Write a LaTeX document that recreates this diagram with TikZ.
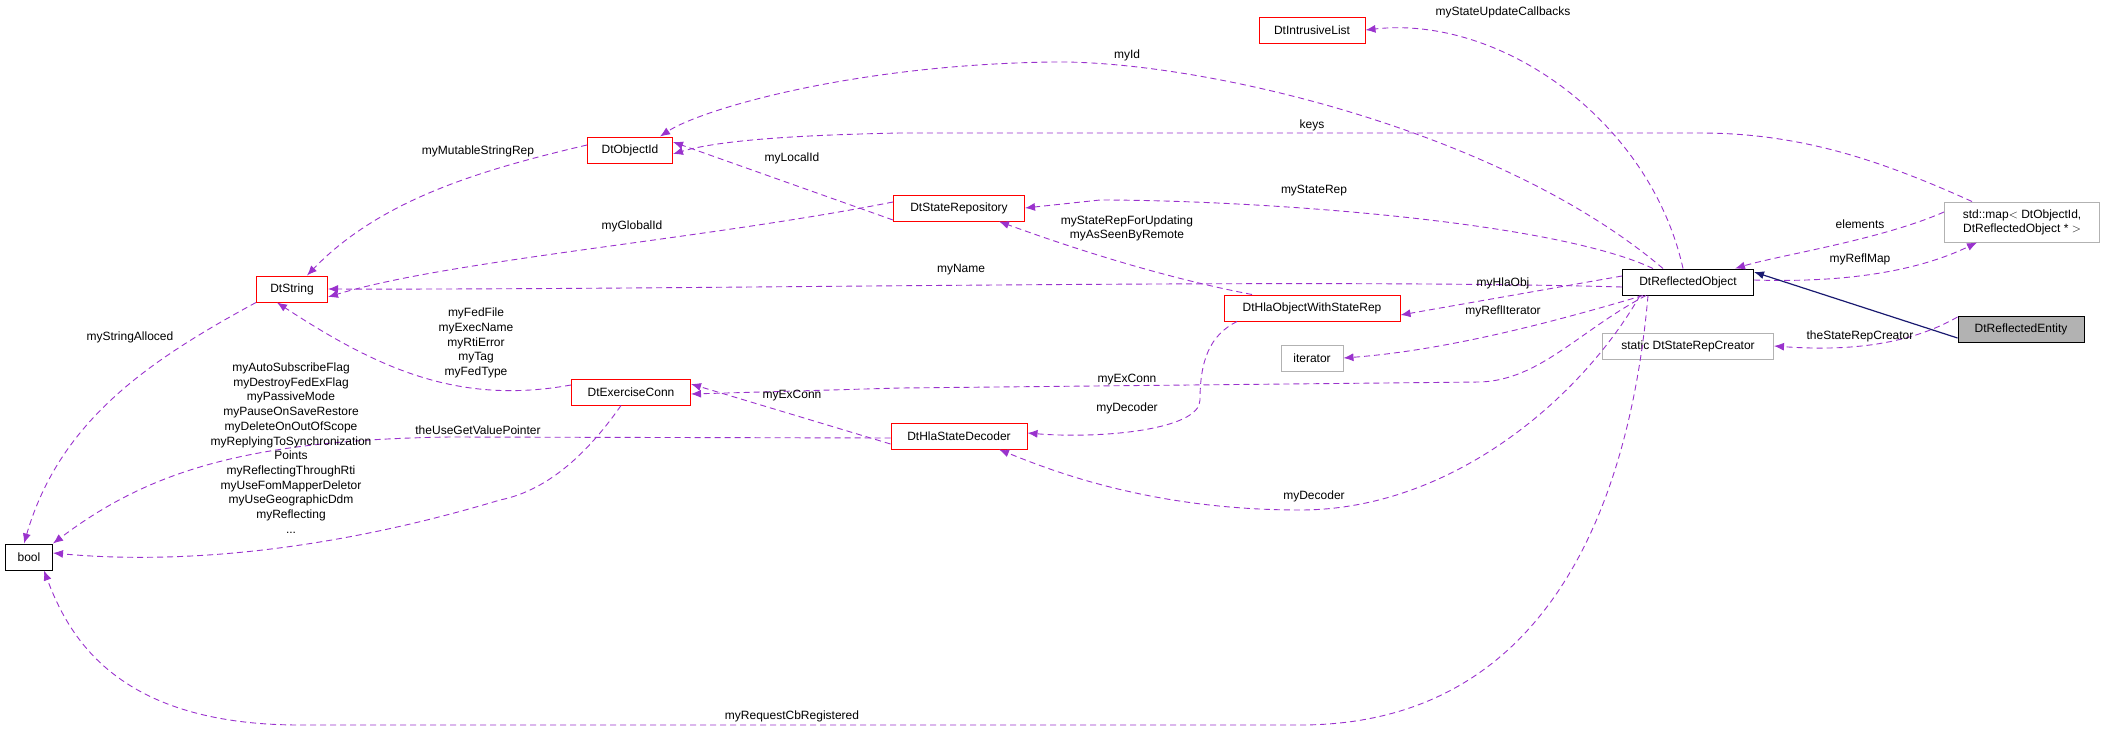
\documentclass[tikz,border=0pt]{standalone}
\usepackage{fontspec}
\setmainfont{Liberation Sans}
\usetikzlibrary{arrows.meta}
\definecolor{ed}{HTML}{9A32CD}
\definecolor{nv}{HTML}{191970}
\begin{document}
\begin{tikzpicture}[x=1pt,y=-1pt,
  every node/.style={font=\fontsize{12}{14}\selectfont},
  box/.style={draw=red,line width=1pt,minimum height=26pt,inner sep=2pt,fill=white},
  bbox/.style={box,draw=black},
  gbox/.style={box,draw=gray!60},
  edge/.style={ed,dashed,dash pattern=on 6pt off 4pt,line width=0.9pt,-{Latex[length=10pt,width=8pt]}},
  lbl/.style={inner sep=0pt,align=center}]
\useasboundingbox (0,0) rectangle (2104,731);
\node[bbox,minimum width=47pt] (bool) at (29,557) {bool};
\node[box,minimum width=71pt] (str) at (292,289) {DtString};
\node[box,minimum width=85pt] (oid) at (630,150) {DtObjectId};
\node[box,minimum width=131pt] (srep) at (959,208) {DtStateRepository};
\node[box,minimum width=119pt] (exc) at (631,392) {DtExerciseConn};
\node[box,minimum width=136pt] (dec) at (959,436) {DtHlaStateDecoder};
\node[box,minimum width=106pt] (ilist) at (1312,30) {DtIntrusiveList};
\node[bbox,minimum width=131pt] (dro) at (1688,282) {DtReflectedObject};
\node[gbox,minimum width=155pt,minimum height=40pt,align=center,inner sep=1pt] (map) at (2022,222) {std::map$<$ DtObjectId,\\DtReflectedObject * $>$};
\node[bbox,minimum width=126pt,fill=gray!60] (ent) at (2021,329) {DtReflectedEntity};
\node[gbox,minimum width=171pt] (src) at (1688,346) {static DtStateRepCreator};
\node[box,minimum width=176pt] (hla) at (1312,308) {DtHlaObjectWithStateRep};
\node[gbox,minimum width=62pt] (it) at (1312,358) {iterator};

% edges
\draw[edge] ([xshift=-5pt]dro.north) .. controls (1650,120) and (1500,15) .. (ilist.east);
\draw[edge] ([xshift=-25pt]dro.north) .. controls (1500,130) and (1200,60) .. (1052,62) .. controls (850,65) and (700,110) .. ([xshift=30pt]oid.north);
\draw[edge] ([xshift=-50pt]map.north) .. controls (1880,160) and (1800,133) .. (1700,133) -- (900,133) .. controls (800,135) and (720,140) .. ([yshift=-4pt]oid.east);
\draw[edge] ([yshift=-12pt]srep.west) -- ([yshift=8pt]oid.east);
\draw[edge] ([yshift=5pt]oid.west) .. controls (480,170) and (380,200) .. ([xshift=15pt]str.north);
\draw[edge] ([yshift=6pt]srep.west) .. controls (700,240) and (450,260) .. ([yshift=-8pt]str.east);
\draw[edge] ([yshift=-5pt]dro.west) .. controls (1300,278) and (700,290) .. (str.east);
\draw[edge] ([xshift=-35pt]dro.north) .. controls (1550,220) and (1250,200) .. (1100,200) -- (srep.east);
\draw[edge] ([xshift=-60pt]hla.north) .. controls (1150,275) and (1050,240) .. ([xshift=40pt]srep.south);
\draw[edge] ([yshift=6pt]dro.west) -- ([yshift=-7pt]hla.east);
\draw[edge] ([xshift=-45pt]dro.south) .. controls (1560,320) and (1450,350) .. (it.east);
\draw[edge] ([xshift=-42pt]dro.south) .. controls (1580,330) and (1540,380) .. (1480,382) -- (900,388) -- ([yshift=-2pt]exc.east);
\draw[edge] ([yshift=-8pt]dec.west) -- ([yshift=8pt]exc.east);
\draw[edge] ([yshift=7pt]exc.west) .. controls (460,405) and (380,370) .. ([xshift=-15pt]str.south);
\draw[edge] ([xshift=-75pt]hla.north |- hla.south) .. controls (1210,335) and (1200,360) .. (1200,400) .. controls (1200,430) and (1100,439) .. ([yshift=3pt]dec.east);
\draw[edge] ([xshift=-48pt]dro.south) .. controls (1580,400) and (1450,510) .. (1300,510) .. controls (1150,510) and (1050,470) .. ([xshift=40pt]dec.south);
\draw[edge] (str.south west) .. controls (150,360) and (60,420) .. ([xshift=-5pt]bool.north);
\draw[edge] ([yshift=-2pt]dec.west) -- (450,437) .. controls (250,440) and (150,470) .. (bool.north east);
\draw[edge] ([xshift=-10pt]exc.south) .. controls (590,450) and (550,490) .. (500,500) .. controls (300,560) and (150,562) .. ([yshift=4pt]bool.east);
\draw[edge] ([xshift=-40pt]dro.south) .. controls (1630,500) and (1550,725) .. (1300,725) -- (300,725) .. controls (120,725) and (70,640) .. ([xshift=15pt]bool.south);
\draw[edge] ([yshift=10pt]map.west) .. controls (1880,240) and (1780,255) .. ([xshift=47pt]dro.north);
\draw[edge] ([yshift=2pt]dro.east) .. controls (1850,283) and (1920,270) .. ([xshift=-45pt]map.south);
\draw[nv,line width=1.2pt,-{Latex[length=10pt,width=8pt]}] ([yshift=-9pt]ent.west) -- ([yshift=10pt]dro.east);
\draw[edge] ([yshift=12pt]ent.west) .. controls (1900,350) and (1830,350) .. (src.east);

% labels
\node[lbl] (l1) at (1503,12) {myStateUpdateCallbacks};
\node[lbl] (l2) at (1127,55) {myId};
\node[lbl] (l3) at (1312,125) {keys};
\node[lbl] (l4) at (792,158) {myLocalId};
\node[lbl] (l5) at (478,151) {myMutableStringRep};
\node[lbl] (l6) at (632,226) {myGlobalId};
\node[lbl] (l7) at (961,270) {myName};
\node[lbl] (l8) at (1314,191) {myStateRep};
\node[lbl] (l9) at (1127,228) {myStateRepForUpdating\\myAsSeenByRemote};
\node[lbl] (l10) at (1503,283) {myHlaObj};
\node[lbl] (l11) at (1503,311) {myReflIterator};
\node[lbl] (l12) at (1127,380) {myExConn};
\node[lbl] (l13) at (792,396) {myExConn};
\node[lbl,font=\fontsize{12}{14.6}\selectfont] (l14) at (476,343) {myFedFile\\myExecName\\myRtiError\\myTag\\myFedType};
\node[lbl] (l15) at (1127,408) {myDecoder};
\node[lbl] (l16) at (1314,496) {myDecoder};
\node[lbl] (l17) at (130,337) {myStringAlloced};
\node[lbl] (l18) at (478,430) {theUseGetValuePointer};
\node[lbl,font=\fontsize{12}{14.7}\selectfont] (l19) at (291,448) {myAutoSubscribeFlag\\myDestroyFedExFlag\\myPassiveMode\\myPauseOnSaveRestore\\myDeleteOnOutOfScope\\myReplyingToSynchronization\\Points\\myReflectingThroughRti\\myUseFomMapperDeletor\\myUseGeographicDdm\\myReflecting\\...};
\node[lbl] (l20) at (792,716) {myRequestCbRegistered};
\node[lbl] (l21) at (1860,224) {elements};
\node[lbl] (l22) at (1860,259) {myReflMap};
\node[lbl] (l23) at (1860,336) {theStateRepCreator};
\end{tikzpicture}
\end{document}
